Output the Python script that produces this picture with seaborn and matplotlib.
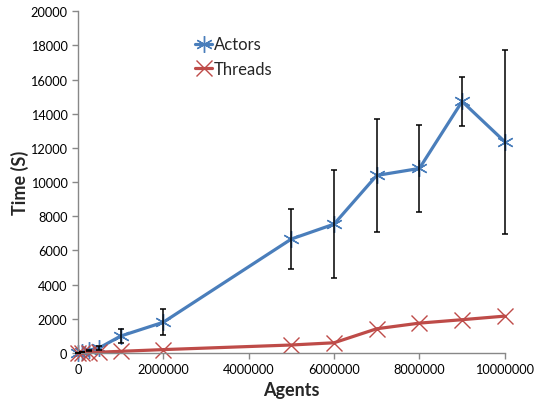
import numpy as np
import pandas as pd
import matplotlib
matplotlib.use('Agg')
import matplotlib.pyplot as plt
import seaborn as sns
from matplotlib.ticker import StrMethodFormatter

# --- data ---
agents = [10000, 100000, 250000, 500000, 1000000, 2000000,
          5000000, 6000000, 7000000, 8000000, 9000000, 10000000]
actors = [20, 60, 150, 300, 990, 1800, 6670, 7540, 10390, 10800, 14720, 12360]
actors_err = [0, 20, 50, 100, 410, 760, 1760, 3140, 3320, 2550, 1430, 5390]
threads = [10, 20, 30, 50, 100, 200, 470, 600, 1420, 1750, 1950, 2160]

x_ticks = [0, 2000000, 4000000, 6000000, 8000000, 10000000]
y_ticks = list(range(0, 20001, 2000))

COLOR_ACTORS = '#4A7EBB'
COLOR_THREADS = '#BE4B48'

sns.set_style('white')
plt.rcParams['font.family'] = ['Lato', 'DejaVu Sans']

fig = plt.figure(figsize=(5.37, 4.06), dpi=100)
ax = fig.add_axes([0.145, 0.128, 0.795, 0.842])

sns.lineplot(x=agents, y=actors, color=COLOR_ACTORS, marker=(6, 2, 0),
             markersize=12, markeredgewidth=1.0, markeredgecolor=COLOR_ACTORS,
             linewidth=2.3, label='Actors', ax=ax, clip_on=False)
sns.lineplot(x=agents, y=threads, color=COLOR_THREADS, marker='x',
             markersize=12, markeredgewidth=1.0, markeredgecolor=COLOR_THREADS,
             linewidth=2.3, label='Threads', ax=ax, clip_on=False)

eb = ax.errorbar(agents, actors, yerr=actors_err, fmt='none', ecolor='black',
                 elinewidth=1.1, capsize=2, capthick=1.1, zorder=5)
for art in eb.lines[1] + eb.lines[2]:
    art.set_clip_on(False)

ax.set_xlim(0, 10000000)
ax.set_ylim(0, 20000)
ax.set_xticks(x_ticks)
ax.set_yticks(y_ticks)
ax.xaxis.set_major_formatter(StrMethodFormatter('{x:.0f}'))
ax.yaxis.set_major_formatter(StrMethodFormatter('{x:.0f}'))
ax.tick_params(axis='both', labelsize=9.2, colors='#888888', labelcolor='black',
               length=4, width=1, direction='out')
ax.tick_params(axis='both', left=True, bottom=True)
for side in ['top', 'right']:
    ax.spines[side].set_visible(False)
for side in ['left', 'bottom']:
    ax.spines[side].set_color('#888888')
    ax.spines[side].set_linewidth(1.0)

ax.set_xlabel('Agents', fontsize=13, fontweight='bold')
ax.set_ylabel('Time (S)', fontsize=13, fontweight='bold', labelpad=1)

leg = ax.legend(loc='upper left', bbox_to_anchor=(0.24, 0.97), frameon=False,
                fontsize=12, handlelength=1.0, handletextpad=0.1,
                labelspacing=0.5)

fig.savefig('out.png', dpi=100)
